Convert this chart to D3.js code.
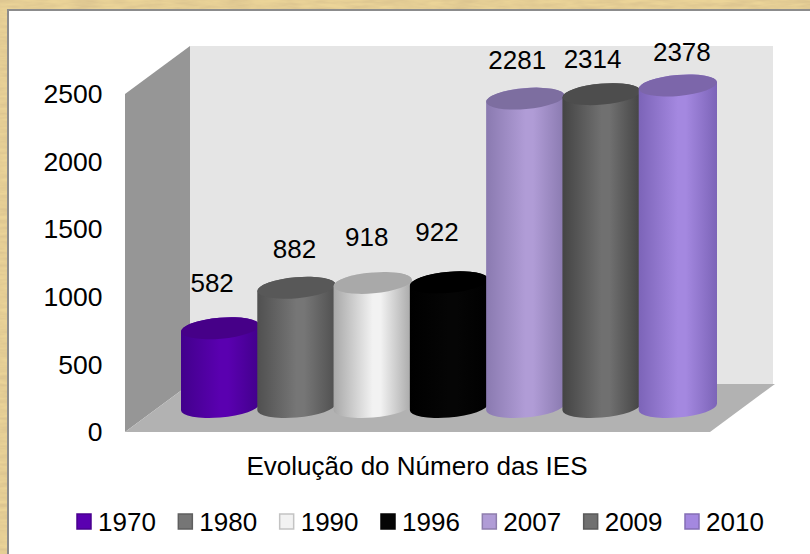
<!DOCTYPE html>
<html>
<head>
<meta charset="utf-8">
<script src="https://cdn.jsdelivr.net/npm/d3@7/dist/d3.min.js"></script>
<style>
html, body { margin: 0; padding: 0; background: #fff; }
svg { display: block; }
text { font-family: "Liberation Sans", Arial, sans-serif; fill: #000; }
</style>
</head>
<body>
<div id="content"></div>
<script>
const years = ["1970", "1980", "1990", "1996", "2007", "2009", "2010"];
const values = [582, 882, 918, 922, 2281, 2314, 2378];
const yTicks = [0, 500, 1000, 1500, 2000, 2500];
const bodyColors = ["#5a00b0", "#767676", "#f2f2f2", "#050505", "#b09cd6", "#707070", "#a488e0"];
const edgeColors = ["#42008c", "#505050", "#a8a8a8", "#000000", "#8a7ab0", "#444444", "#7c64b8"];
const topColors = ["#460088", "#585858", "#a9a9a9", "#000000", "#7d6ea0", "#4d4d4d", "#7c66aa"];
const xTitle = "Evolução do Número das IES";

const W = 810, H = 554;
const FONT = 26;

const svg = d3.select("#content").append("svg")
    .attr("width", W)
    .attr("height", H);

const defs = svg.append("defs");

// parchment look of the page border
const paper = defs.append("filter").attr("id", "paper")
    .attr("x", 0).attr("y", 0).attr("width", "100%").attr("height", "100%");
paper.append("feTurbulence")
    .attr("type", "fractalNoise")
    .attr("baseFrequency", "0.04 0.25")
    .attr("numOctaves", 3)
    .attr("seed", 4);
paper.append("feColorMatrix")
    .attr("values", "0 0 0 0 0.72  0 0 0 0 0.56  0 0 0 0 0.28  1.8 0 0 0 -0.45");

svg.append("rect").attr("width", W).attr("height", H).attr("fill", "#ebd498");
svg.append("rect").attr("width", W).attr("height", H).attr("filter", "url(#paper)");
svg.append("rect")
    .attr("x", 7).attr("y", 9)
    .attr("width", W - 7).attr("height", H - 9)
    .attr("fill", "#8c8c8c");
svg.append("rect")
    .attr("x", 9).attr("y", 11)
    .attr("width", W - 9).attr("height", H - 11)
    .attr("fill", "#fff");

// front plane of the axis and the base line the cylinders stand on
const yAxis = d3.scaleLinear().domain([0, 2500]).range([432, 94]);
const yBar = d3.scaleLinear().domain([0, 2500]).range([407, 69]);
const x = d3.scaleBand().domain(years).range([182, 716]);

// depth of the 3d box
const depthX = 65, depthY = -48;
const frontLeft = 125, frontRight = 710;

const poly = (pts, fill) => svg.append("polygon")
    .attr("points", pts.map(p => p.join(",")).join(" "))
    .attr("fill", fill);

const y0 = yAxis(0), yTop = yAxis(2500);
poly([
    [frontLeft + depthX, yTop + depthY],
    [frontRight + depthX - 2, yTop + depthY],
    [frontRight + depthX - 2, y0 + depthY],
    [frontLeft + depthX, y0 + depthY]
], "#e5e5e5");
poly([
    [frontLeft, yTop],
    [frontLeft + depthX, yTop + depthY],
    [frontLeft + depthX, y0 + depthY],
    [frontLeft, y0]
], "#969696");
poly([
    [frontLeft, y0],
    [frontLeft + depthX, y0 + depthY],
    [frontRight + depthX, y0 + depthY],
    [frontRight, y0]
], "#b2b2b2");

// axis labels
svg.selectAll(".ytick")
    .data(yTicks)
    .enter().append("text")
    .attr("class", "ytick")
    .attr("x", 102.5)
    .attr("y", d => yAxis(d))
    .attr("dy", "0.35em")
    .attr("text-anchor", "end")
    .attr("font-size", FONT + 0.5)
    .text(d => d);

// cylinders, the gradient runs across each one
years.forEach((yr, i) => {
    const g = defs.append("linearGradient").attr("id", "body" + i);
    g.append("stop").attr("offset", "0%").attr("stop-color", edgeColors[i]);
    g.append("stop").attr("offset", "50%").attr("stop-color", bodyColors[i]);
    g.append("stop").attr("offset", "60%").attr("stop-color", bodyColors[i]);
    g.append("stop").attr("offset", "100%").attr("stop-color", edgeColors[i]);
});

const tilt = -5; // the ellipses lean with the camera
const ry = 10.5;
const lean = 3.2; // half the height drop across a cylinder from the tilt

const bars = svg.selectAll(".bar")
    .data(years.map((year, i) => ({ year, value: values[i], i })))
    .enter().append("g")
    .attr("class", "bar");

bars.append("path")
    .attr("fill", d => `url(#body${d.i})`)
    .attr("d", d => {
        const rx = x.bandwidth() / 2 + 1;
        const cx = x(d.year) + x.bandwidth() / 2;
        const top = yBar(d.value), base = yBar(0);
        return `M${cx - rx},${top + lean}`
            + `L${cx - rx},${base + lean}`
            + `A${rx},${ry} ${tilt} 0 0 ${cx + rx},${base - lean}`
            + `L${cx + rx},${top - lean}`
            + `A${rx},${ry} ${tilt} 0 0 ${cx - rx},${top + lean}Z`;
    });

bars.append("ellipse")
    .attr("cx", d => x(d.year) + x.bandwidth() / 2)
    .attr("cy", d => yBar(d.value))
    .attr("rx", x.bandwidth() / 2 + 1)
    .attr("ry", ry)
    .attr("fill", d => topColors[d.i])
    .attr("transform", d => `rotate(${tilt} ${x(d.year) + x.bandwidth() / 2} ${yBar(d.value)})`);

// the value labels float at uneven distances above the cylinders
const labelDx = [-8, -2, -6, -12, -8, -9, 4];
const labelDy = [45, 39, 46, 50, 39, 35, 34];
bars.append("text")
    .attr("x", d => x(d.year) + x.bandwidth() / 2 + labelDx[d.i])
    .attr("y", d => yBar(d.value) - labelDy[d.i])
    .attr("dy", "0.35em")
    .attr("text-anchor", "middle")
    .attr("font-size", FONT)
    .text(d => d.value);

svg.append("text")
    .attr("x", 417)
    .attr("y", 466)
    .attr("dy", "0.35em")
    .attr("text-anchor", "middle")
    .attr("font-size", FONT)
    .text(xTitle);

// legend
const legendX = d3.scalePoint().domain(years).range([77, 685]);
const legend = svg.selectAll(".legend")
    .data(years.map((year, i) => ({ year, i })))
    .enter().append("g")
    .attr("class", "legend")
    .attr("transform", d => `translate(${legendX(d.year)},522)`);
legend.append("rect")
    .attr("x", 0).attr("y", -8)
    .attr("width", 14).attr("height", 15)
    .attr("fill", d => bodyColors[d.i])
    .attr("stroke", d => d3.color(bodyColors[d.i]).darker(0.6))
    .attr("stroke-width", 1.5);
legend.append("text")
    .attr("x", 21)
    .attr("y", 0)
    .attr("dy", "0.35em")
    .attr("font-size", FONT)
    .text(d => d.year);
</script>
</body>
</html>
